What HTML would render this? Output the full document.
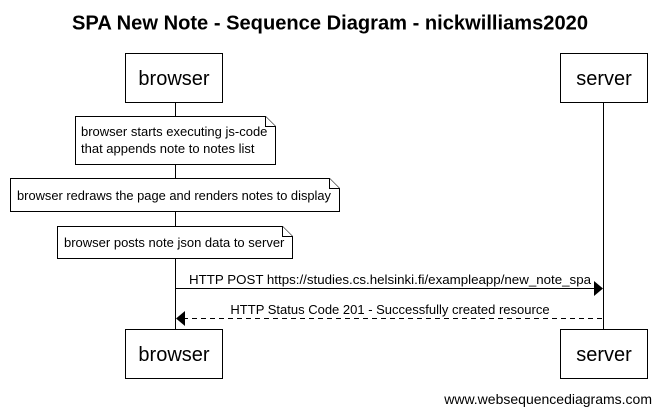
<!DOCTYPE html>
<html><head><meta charset="utf-8"><style>html,body{margin:0;padding:0;background:#fff}svg{display:block}</style></head>
<body>
<svg width="661" height="415" xmlns="http://www.w3.org/2000/svg" font-family="Liberation Sans, Arial, sans-serif">
<rect width="661" height="415" fill="#fff"/>
<text x="330" y="29.5" text-anchor="middle" font-size="20" font-weight="bold" textLength="516" lengthAdjust="spacingAndGlyphs">SPA New Note - Sequence Diagram - nickwilliams2020</text>
<g stroke="#000" stroke-width="1" fill="none">
<line x1="175.5" y1="102" x2="175.5" y2="330"/>
<line x1="603.5" y1="102" x2="603.5" y2="330"/>
</g>
<g stroke="#000" stroke-width="1" fill="#fff">
<rect x="125.5" y="53.5" width="97" height="49"/>
<rect x="560.5" y="53.5" width="87" height="49"/>
<rect x="125.5" y="329.5" width="97" height="49"/>
<rect x="560.5" y="329.5" width="87" height="49"/>
<path d="M75.5 116.5 H265.5 L275.5 126.5 V164.5 H75.5 Z"/>
<path d="M265.5 116.5 V126.5 H275.5"/>
<path d="M10.5 178.5 H329.5 L339.5 188.5 V211.5 H10.5 Z"/>
<path d="M329.5 178.5 V188.5 H339.5"/>
<path d="M57.5 226.5 H282.5 L292.5 236.5 V258.5 H57.5 Z"/>
<path d="M282.5 226.5 V236.5 H292.5"/>
</g>
<g font-size="20" text-anchor="middle">
<text x="174" y="85">browser</text>
<text x="604" y="85">server</text>
<text x="174" y="361">browser</text>
<text x="604" y="361">server</text>
</g>
<g font-size="13">
<text x="81" y="136">browser starts executing js-code</text>
<text x="81" y="153">that appends note to notes list</text>
<text x="17" y="200" textLength="314" lengthAdjust="spacingAndGlyphs">browser redraws the page and renders notes to display</text>
<text x="64" y="247">browser posts note json data to server</text>
</g>
<line x1="175.5" y1="288.5" x2="596" y2="288.5" stroke="#000"/>
<polygon points="603,288.5 594,281 594,296" fill="#000"/>
<line x1="183" y1="318.5" x2="603.5" y2="318.5" stroke="#000" stroke-dasharray="5,4"/>
<polygon points="176,318.5 185,311 185,326" fill="#000"/>
<g font-size="13" text-anchor="middle">
<text x="390" y="284" textLength="402" lengthAdjust="spacingAndGlyphs">HTTP POST https://studies.cs.helsinki.fi/exampleapp/new_note_spa</text>
<text x="390" y="314">HTTP Status Code 201 - Successfully created resource</text>
</g>
<text x="652" y="404" font-size="14" text-anchor="end">www.websequencediagrams.com</text>
</svg>
</body></html>
